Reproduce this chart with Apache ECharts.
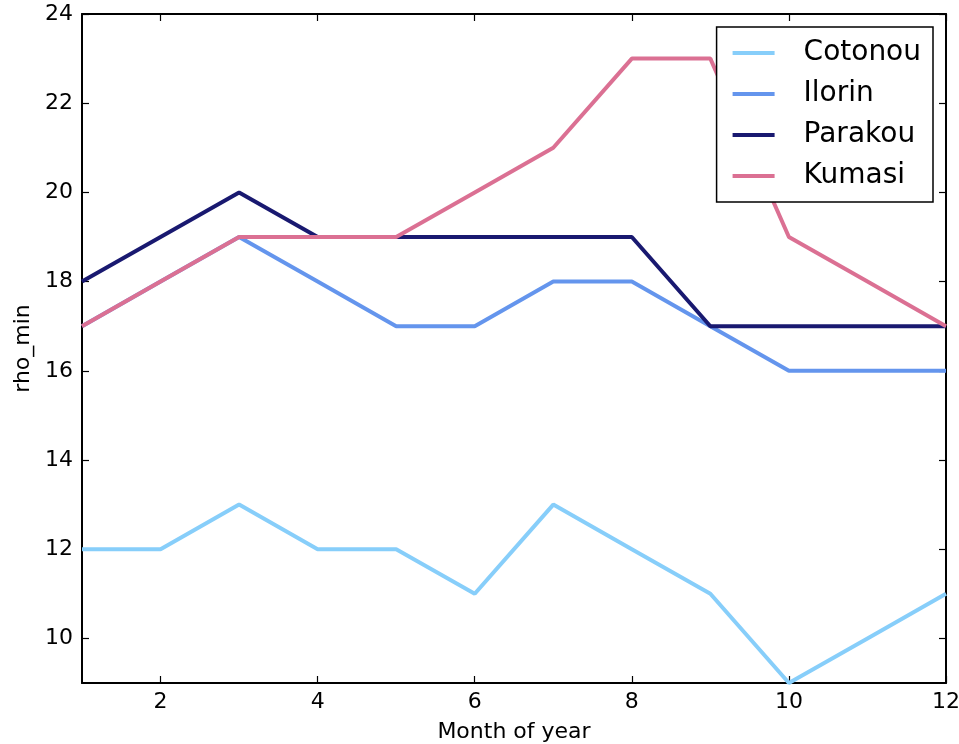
<!DOCTYPE html>
<html>
<head>
	<meta charset="utf-8">
	<title>rho_min</title>
	<script src="https://cdn.jsdelivr.net/npm/echarts@6/dist/echarts.min.js"></script>
	<style>
		html, body { margin: 0; padding: 0; background: #fff; }
		#chart { width: 959px; height: 744px; }
	</style>
</head>
<body>
	<div id="chart"></div>
	<script type="text/javascript">
		// months 1..12
		var months = [1, 2, 3, 4, 5, 6, 7, 8, 9, 10, 11, 12];
		var xTicks = [2, 4, 6, 8, 10, 12];
		var yTicks = [10, 12, 14, 16, 18, 20, 22, 24];

		var cotonou = [12, 12, 13, 12, 12, 11, 13, 12, 11, 9, 10, 11];
		var ilorin  = [17, 18, 19, 18, 17, 17, 18, 18, 17, 16, 16, 16];
		var parakou = [18, 19, 20, 19, 19, 19, 19, 19, 17, 17, 17, 17];
		var kumasi  = [17, 18, 19, 19, 19, 20, 21, 23, 23, 19, 18, 17];

		function pairs(vals) {
			var out = [];
			for (var i = 0; i < months.length; i++) {
				out.push([months[i], vals[i]]);
			}
			return out;
		}

		function mkSeries(name, vals, color) {
			return {
				name: name,
				type: 'line',
				data: pairs(vals),
				symbol: 'none',
				lineStyle: { color: color, width: 4 },
				itemStyle: { color: color },
				z: 2
			};
		}

		var font = 'DejaVu Sans';
		var axisLine = { show: true, onZero: false, lineStyle: { color: '#000', width: 2 } };
		var tick = function (vals) {
			return { inside: true, length: 7, customValues: vals, lineStyle: { color: '#000', width: 1.2 } };
		};

		var chart = echarts.init(document.getElementById('chart'));
		var option = {
			animation: false,
			backgroundColor: '#fff',
			grid: { left: 82, right: 13, top: 14, bottom: 61, outerBoundsMode: 'none' },
			legend: {
				orient: 'vertical',
				right: 26,
				top: 27,
				padding: [12, 12, 12, 16],
				itemGap: 13,
				itemWidth: 42,
				itemHeight: 4,
				icon: 'rect',
				backgroundColor: '#fff',
				borderColor: '#000',
				borderWidth: 1.5,
				borderRadius: 0,
				textStyle: { fontFamily: font, fontSize: 28, color: '#000', padding: [0, 0, 0, 24] },
				data: ['Cotonou', 'Ilorin', 'Parakou', 'Kumasi']
			},
			xAxis: [{
				type: 'value',
				min: 1,
				max: 12,
				name: 'Month of year',
				nameLocation: 'middle',
				nameGap: 38,
				nameTextStyle: { fontFamily: font, fontSize: 22, color: '#000' },
				axisLine: axisLine,
				axisTick: tick(xTicks),
				axisLabel: { customValues: xTicks, margin: 8, fontFamily: font, fontSize: 22, color: '#000' },
				splitLine: { show: false }
			}, {
				type: 'value',
				position: 'top',
				min: 1,
				max: 12,
				axisLine: axisLine,
				axisTick: tick(xTicks),
				axisLabel: { show: false },
				splitLine: { show: false }
			}],
			yAxis: [{
				type: 'value',
				min: 9,
				max: 24,
				name: 'rho_min',
				nameLocation: 'middle',
				nameGap: 46,
				nameTextStyle: { fontFamily: font, fontSize: 22, color: '#000' },
				axisLine: axisLine,
				axisTick: tick(yTicks),
				axisLabel: { customValues: yTicks, margin: 9, fontFamily: font, fontSize: 22, color: '#000' },
				splitLine: { show: false }
			}, {
				type: 'value',
				position: 'right',
				min: 9,
				max: 24,
				axisLine: axisLine,
				axisTick: tick(yTicks),
				axisLabel: { show: false },
				splitLine: { show: false }
			}],
			series: [
				mkSeries('Cotonou', cotonou, '#87CEFA'),
				mkSeries('Ilorin', ilorin, '#6495ED'),
				mkSeries('Parakou', parakou, '#191970'),
				mkSeries('Kumasi', kumasi, '#DB7093')
			]
		};
		chart.setOption(option);
	</script>
</body>
</html>
